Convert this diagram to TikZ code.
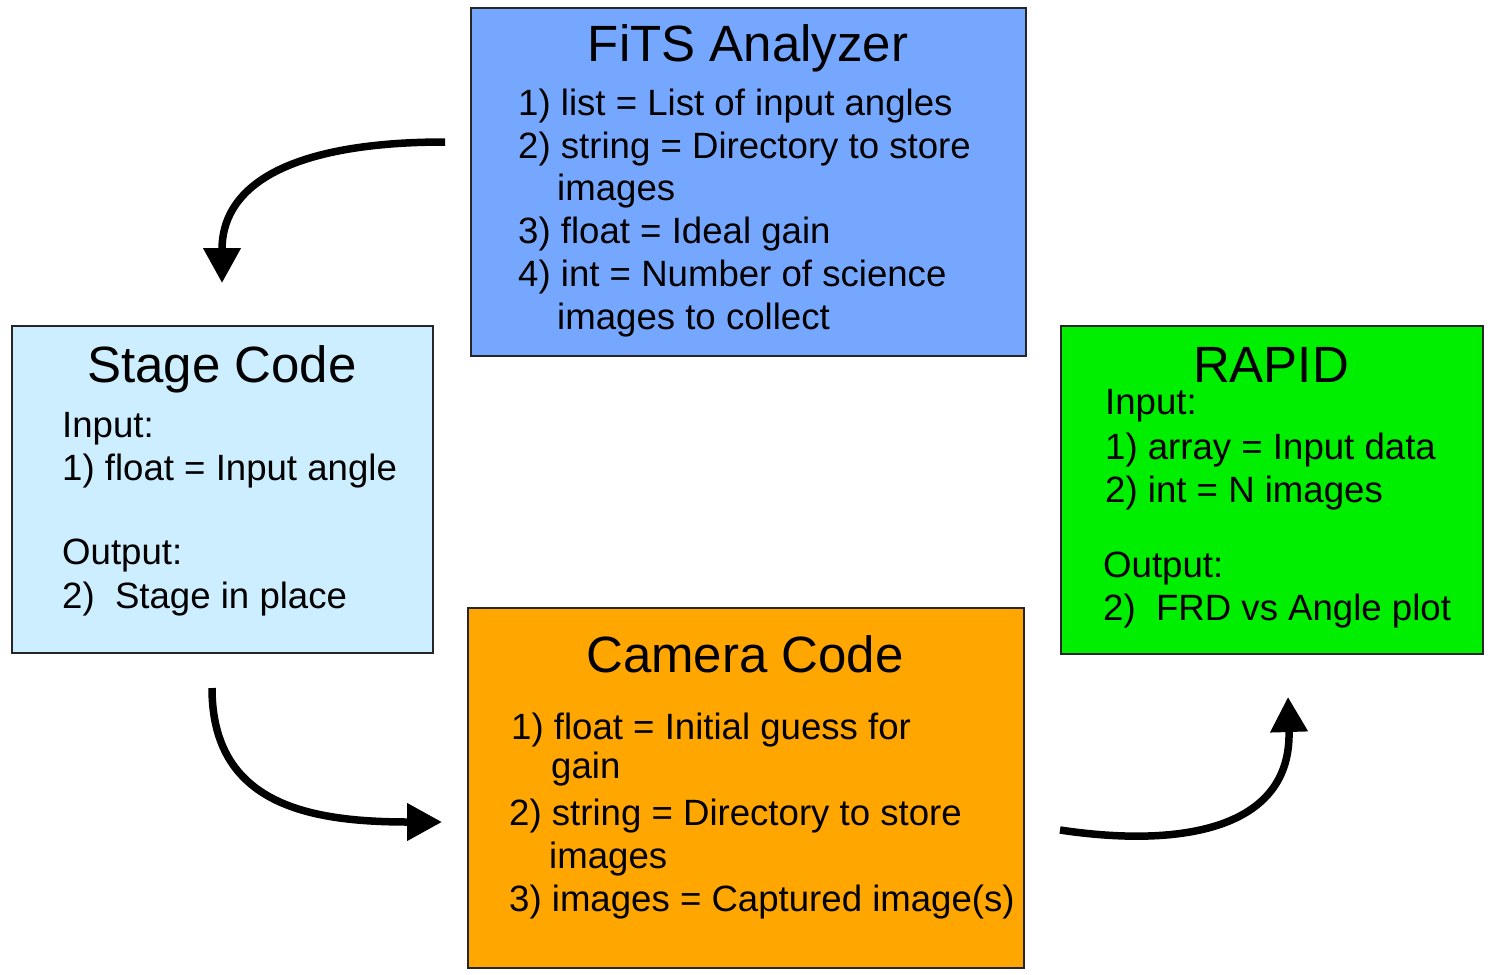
\documentclass[tikz,border=0pt]{standalone}
\usepackage{fontspec}
\setmainfont{Liberation Sans}
\usetikzlibrary{arrows.meta}

\definecolor{fitsblue}{RGB}{118,167,254}
\definecolor{stageblue}{RGB}{204,238,255}
\definecolor{rapidgreen}{RGB}{0,238,0}
\definecolor{cameraorange}{RGB}{255,166,0}

\tikzset{
  module/.style={draw=black!85, line width=1.6pt, anchor=north west, inner sep=0pt},
  title/.style={anchor=base, inner sep=0pt, font=\fontsize{51}{61}\selectfont},
  body/.style={anchor=base west, inner sep=0pt, font=\fontsize{36.6}{43}\selectfont},
  flow/.style={line width=7.5pt, -{Triangle[width=36pt,length=35pt]}}
}

\begin{document}
\begin{tikzpicture}[x=1pt,y=-1pt]
  \useasboundingbox[fill=white] (0,0) rectangle (1495,974);

  % module boxes
  \node[module, fill=fitsblue, minimum width=555pt, minimum height=348pt] (fits) at (470,7) {};
  \node[module, fill=stageblue, minimum width=421pt, minimum height=327pt] (stage) at (11,325) {};
  \node[module, fill=rapidgreen, minimum width=422pt, minimum height=328pt] (rapid) at (1060,325) {};
  \node[module, fill=cameraorange, minimum width=556pt, minimum height=360pt] (camera) at (467,607) {};

  % FiTS Analyzer
  \node[title] (fitsT) at (748,62) {FiTS Analyzer};
  \node[body] (fits1) at (518,115) {1) list = List of input angles};
  \node[body] (fits2) at (518,158) {2) string = Directory to store};
  \node[body] (fits2b) at (557,200) {images};
  \node[body] (fits3) at (518,243) {3) float = Ideal gain};
  \node[body] (fits4) at (518,286) {4) int = Number of science};
  \node[body] (fits4b) at (557,329) {images to collect};

  % Stage Code
  \node[title] (stageT) at (222,382) {Stage Code};
  \node[body] (stage1) at (62,437) {Input:};
  \node[body] (stage2) at (62,480) {1) float = Input angle};
  \node[body] (stage3) at (62,564) {Output:};
  \node[body] (stage4) at (62,608) {2)\ \ Stage in place};

  % RAPID
  \node[title] (rapidT) at (1271,382) {RAPID};
  \node[body] (rapid1) at (1105,414) {Input:};
  \node[body] (rapid2) at (1105,459) {1) array = Input data};
  \node[body] (rapid3) at (1105,502) {2) int = N images};
  \node[body] (rapid4) at (1103,577) {Output:};
  \node[body] (rapid5) at (1103,620) {2)\ \ FRD vs Angle plot};

  % Camera Code
  \node[title] (cameraT) at (745,672) {Camera Code};
  \node[body] (camera1) at (511,739) {1) float = Initial guess for};
  \node[body] (camera1b) at (551,778) {gain};
  \node[body] (camera2) at (509,825) {2) string = Directory to store};
  \node[body] (camera2b) at (549,868) {images};
  \node[body] (camera3) at (509,911) {3) images = Captured image(s)};

  % flow arrows between the modules
  \coordinate (a1s) at (445,142);
  \coordinate (a1e) at (222,283);
  \coordinate (a2s) at (212,688);
  \coordinate (a2e) at (442,822);
  \coordinate (a3s) at (1060,830);
  \coordinate (a3e) at (1288,697);

  \draw[flow] (a1s) .. controls (300,142) and (222,180) .. (a1e);
  \draw[flow] (a2s) .. controls (212,805) and (310,822) .. (a2e);
  \draw[flow] (a3s) .. controls (1180,848) and (1292,830) .. (a3e);
\end{tikzpicture}
\end{document}
